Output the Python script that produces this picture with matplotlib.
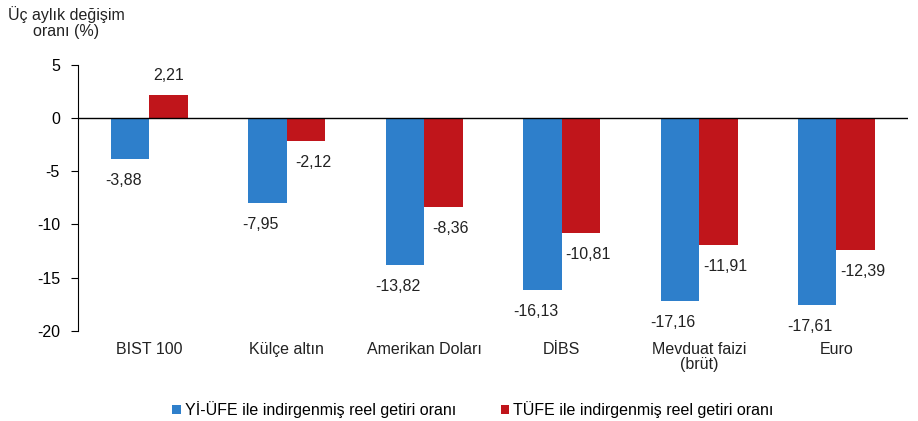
import matplotlib
matplotlib.use("Agg")
from matplotlib import pyplot as plt
import numpy as np

plt.rcParams['font.family'] = ['Liberation Sans', 'DejaVu Sans']

categories = ['BIST 100', 'Külçe altın', 'Amerikan Doları', 'DİBS', 'Mevduat faizi\n(brüt)', 'Euro']
yi_ufe = [-3.88, -7.95, -13.82, -16.13, -17.16, -17.61]
tufe = [2.21, -2.12, -8.36, -10.81, -11.91, -12.39]
series_names = ['Yİ-ÜFE ile indirgenmiş reel getiri oranı', 'TÜFE ile indirgenmiş reel getiri oranı']

blue = '#2e7fcb'
red = '#c0151b'
fs = 11.5

fig = plt.figure(figsize=(9.18, 4.21), dpi=100)
ax = fig.add_axes([0.085, 0.214, 0.904, 0.632])

x = np.arange(len(categories))
w = 0.28
b1 = ax.bar(x - w / 2, yi_ufe, w, color=blue, label=series_names[0])
b2 = ax.bar(x + w / 2, tufe, w, color=red, label=series_names[1])

# etiketler
for bars, vals, dx in [(b1, yi_ufe, -5), (b2, tufe, 5)]:
    for b, v in zip(bars, vals):
        off = 8 if v > 0 else -10
        ax.annotate(f"{v:.2f}".replace('.', ','), (b.get_x() + b.get_width() / 2, v),
                    xytext=(dx if v < 0 else 0, off), textcoords='offset points', ha='center',
                    va='bottom' if v > 0 else 'top', fontsize=fs, color='#222222')

ax.axhline(0, color='black', lw=1)
ax.set_xlim(-0.52, len(categories) - 0.48)
ax.set_ylim(-20, 5)
ax.set_yticks([5, 0, -5, -10, -15, -20])
ax.set_yticklabels(['5', '0', '-5', '-10', '-15', '-20'], fontsize=fs)
for s in ['top', 'right', 'bottom']:
    ax.spines[s].set_visible(False)
ax.spines['left'].set_color('black')
ax.tick_params(axis='y', length=5, direction='out', pad=8)
ax.set_xticks([])
for xi, c in zip(x, categories):
    ax.text(xi, -21.0, c, ha='center', va='top', fontsize=fs, color='#222222',
            linespacing=1.05)

fig.text(0.072, 0.985, 'Üç aylık değişim\noranı (%)', ha='center', va='top', fontsize=fs,
         linespacing=1.1, color='#222222')

fig.legend(loc='lower center', bbox_to_anchor=(0.515, -0.027), ncol=2, frameon=False,
           fontsize=fs, handlelength=0.55, handleheight=0.55, handletextpad=0.25,
           columnspacing=2.8)

plt.savefig('out.png', dpi=100)
